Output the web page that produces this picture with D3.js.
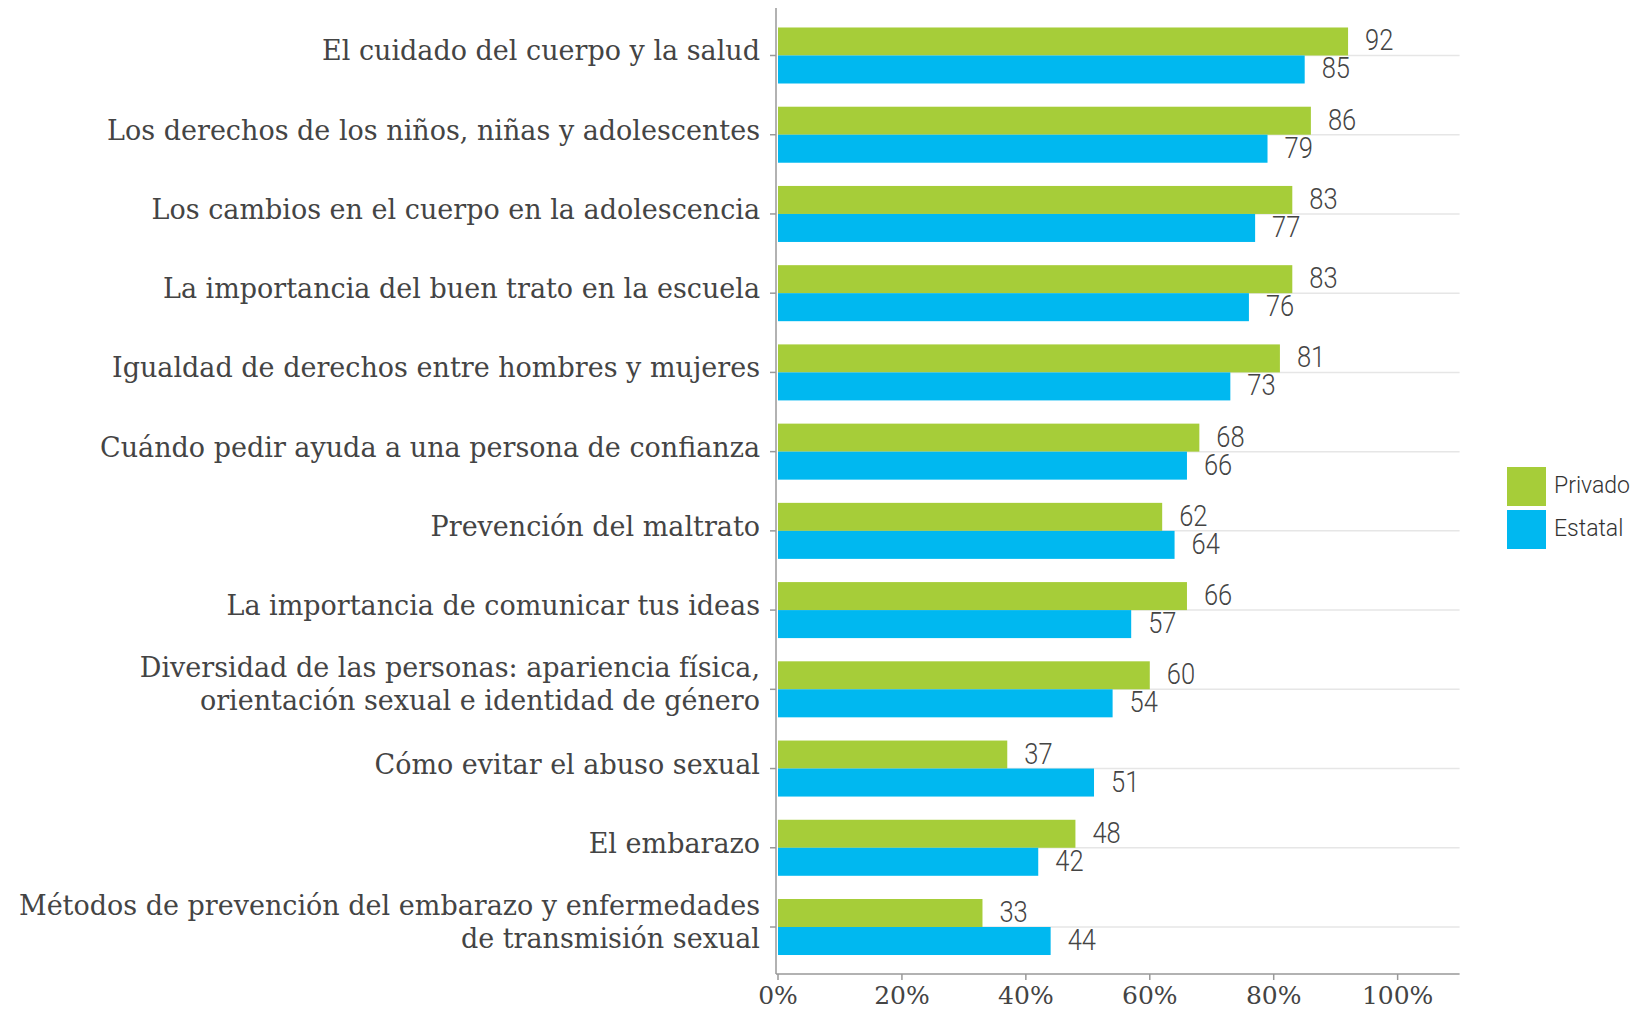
<!DOCTYPE html>
<meta charset="utf-8">
<style>
body { margin: 0; background: #fff; }
.categoria text { font-family: "Roboto Slab", "DejaVu Serif", serif; font-size: 27px; fill: #444; }
.eixo-x text { font-family: "Roboto Slab", "DejaVu Serif", serif; font-size: 25px; fill: #444; }
.valor { font-family: Roboto, sans-serif; font-weight: 300; font-size: 30px; fill: #444; }
.legenda text { font-family: Roboto, sans-serif; font-weight: 300; font-size: 23px; fill: #333; }
</style>

<svg width="1643" height="1009"></svg>

<script src="https://d3js.org/d3.v7.min.js"></script>
<script>
// dados
var categorias = [
  ["El cuidado del cuerpo y la salud"],
  ["Los derechos de los niños, niñas y adolescentes"],
  ["Los cambios en el cuerpo en la adolescencia"],
  ["La importancia del buen trato en la escuela"],
  ["Igualdad de derechos entre hombres y mujeres"],
  ["Cuándo pedir ayuda a una persona de confianza"],
  ["Prevención del maltrato"],
  ["La importancia de comunicar tus ideas"],
  ["Diversidad de las personas: apariencia física,", "orientación sexual e identidad de género"],
  ["Cómo evitar el abuso sexual"],
  ["El embarazo"],
  ["Métodos de prevención del embarazo y enfermedades", "de transmisión sexual"]
];
var series = ["Privado", "Estatal"];
var privado = [92, 86, 83, 83, 81, 68, 62, 66, 60, 37, 48, 33];
var estatal = [85, 79, 77, 76, 73, 66, 64, 57, 54, 51, 42, 44];
var ticksX = [0, 20, 40, 60, 80, 100];

var cores = {"Privado": "#a6cd39", "Estatal": "#00b8f0"};
var valores = {"Privado": privado, "Estatal": estatal};

var svg = d3.select("svg");

var x = d3.scaleLinear().domain([0, 110]).range([778, 1459.6]);
var y = d3.scaleBand()
    .domain(d3.range(categorias.length))
    .range([16, 966.5])
    .paddingInner(0.293)
    .paddingOuter(0.145);
var ySerie = d3.scaleBand().domain(series).range([0, y.bandwidth()]);

var eixoY = 776, eixoXY = 974;

// linhas de grade
svg.append("g")
  .selectAll("line")
  .data(categorias)
  .enter().append("line")
    .attr("x1", x(0))
    .attr("x2", x(110))
    .attr("y1", (d, i) => y(i) + y.bandwidth() / 2)
    .attr("y2", (d, i) => y(i) + y.bandwidth() / 2)
    .attr("stroke", "#e6e6e6")
    .attr("stroke-width", 1.5);

// barras
var grupos = svg.append("g")
  .selectAll("g")
  .data(categorias)
  .enter().append("g")
    .attr("transform", (d, i) => "translate(0," + y(i) + ")");

series.forEach(function(s) {
  grupos.append("rect")
      .attr("x", x(0))
      .attr("y", ySerie(s))
      .attr("width", (d, i) => x(valores[s][i]) - x(0))
      .attr("height", ySerie.bandwidth())
      .attr("fill", cores[s]);
  grupos.append("text")
      .attr("class", "valor")
      .attr("transform", (d, i) => "translate(" + (x(valores[s][i]) + 17) + "," + (ySerie(s) + ySerie.bandwidth() / 2 + 9) + ") scale(0.85,1)")
      .text((d, i) => valores[s][i]);
});

// eixo y
svg.append("line")
    .attr("x1", eixoY).attr("x2", eixoY)
    .attr("y1", 8).attr("y2", eixoXY)
    .attr("stroke", "#999").attr("stroke-width", 1.5);

var cat = svg.append("g")
    .attr("class", "categoria")
  .selectAll("g")
  .data(categorias)
  .enter().append("g")
    .attr("transform", (d, i) => "translate(0," + (y(i) + y.bandwidth() / 2) + ")");

cat.append("line")
    .attr("x1", eixoY - 6).attr("x2", eixoY)
    .attr("stroke", "#999").attr("stroke-width", 1.5);

cat.append("text")
    .attr("text-anchor", "end")
  .selectAll("tspan")
  .data(d => d.map((t, j) => ({t: t, j: j, n: d.length})))
  .enter().append("tspan")
    .attr("x", 760)
    .attr("y", d => d.n == 1 ? 5 : (d.j == 0 ? -12 : 21))
    .text(d => d.t);

// eixo x
svg.append("line")
    .attr("x1", eixoY).attr("x2", x(110))
    .attr("y1", eixoXY).attr("y2", eixoXY)
    .attr("stroke", "#999").attr("stroke-width", 1.5);

var tx = svg.append("g")
    .attr("class", "eixo-x")
  .selectAll("g")
  .data(ticksX)
  .enter().append("g")
    .attr("transform", d => "translate(" + x(d) + "," + eixoXY + ")");

tx.append("line").attr("y2", 6).attr("stroke", "#999").attr("stroke-width", 1.5);
tx.append("text")
    .attr("text-anchor", "middle")
    .attr("y", 30)
    .text(d => d + "%");

// legenda
var leg = svg.append("g")
    .attr("class", "legenda")
  .selectAll("g")
  .data(series)
  .enter().append("g")
    .attr("transform", (d, i) => "translate(1507," + (467 + i * 43) + ")");

leg.append("rect")
    .attr("width", 39).attr("height", 39)
    .attr("fill", d => cores[d]);
leg.append("text")
    .attr("x", 47).attr("y", 26)
    .text(d => d);
</script>
